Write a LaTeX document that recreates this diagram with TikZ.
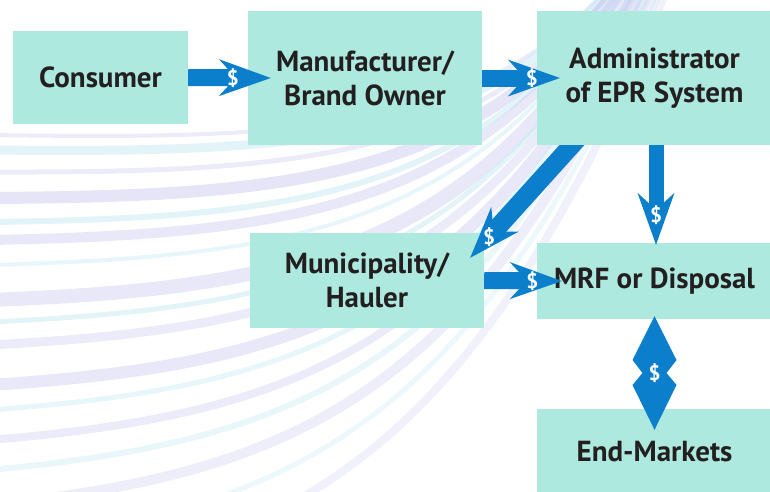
\documentclass[tikz,border=0pt]{standalone}
\usepackage{fontspec}
\setmainfont{PT Sans}
\usetikzlibrary{arrows.meta,calc}

\definecolor{boxgreen}{HTML}{ADE9DE}
\definecolor{moneyblue}{HTML}{0B7FCC}
\definecolor{inkdark}{HTML}{231F20}
\definecolor{streaklav}{HTML}{C5C6EE}
\definecolor{streakcyan}{HTML}{C8EAF4}

\tikzset{
  party/.style={fill=boxgreen, text=inkdark, align=center, inner sep=0pt,
    font=\bfseries\fontsize{29}{34}\selectfont},
  money/.style={draw=moneyblue, line width=17pt,
    -{Stealth[length=52pt,width=37pt,inset=17pt,line width=0pt]}},
  dollar/.style={text=white, inner sep=0pt,
    font=\bfseries\fontsize{21}{21}\selectfont}
}

\begin{document}
\begin{tikzpicture}[x=1pt,y=-1pt]
  \useasboundingbox (0,0) rectangle (770,491);

  % streaks in the background
  \begin{scope}
    \clip (0,0) rectangle (770,491);
    \foreach \y/\w/\c/\o in {
      135/4/streaklav/.35, 150/9/streakcyan/.5, 172/5/streaklav/.35, 198/12/streaklav/.45,
      222/6/streakcyan/.5, 240/10/streaklav/.4, 265/4/streakcyan/.45, 300/14/streaklav/.4,
      322/5/streakcyan/.5, 345/9/streaklav/.35, 385/12/streaklav/.4, 410/5/streakcyan/.45,
      440/8/streaklav/.35, 470/6/streakcyan/.4, 505/10/streaklav/.3, 545/5/streakcyan/.35,
      590/8/streaklav/.25}
      \draw[\c, line width=\w pt, opacity=\o]
        (-10,\y) .. controls (300,{\y-0.1*(\y-180)}) and (480,{\y-0.3*(\y-130)})
        .. ({600+0.12*\y},-20);
  \end{scope}

  % the parties
  \node[party, minimum width=175pt, minimum height=93pt] (con) at (100.5,77.5) {Consumer};
  \node[party, minimum width=234pt, minimum height=134pt] (man) at (365,78) {Manufacturer/\\Brand Owner};
  \node[party, minimum width=235pt, minimum height=134pt] (adm) at (654.5,78) {Administrator\\of EPR System};
  \node[party, minimum width=234pt, minimum height=95pt] (mun) at (367,280.5) {Municipality/\\Hauler};
  \node[party, minimum width=235pt, minimum height=76pt] (mrf) at (654.5,281) {MRF or Disposal};
  \node[party, minimum width=235pt, minimum height=86pt] (mkt) at (654.5,452) {End-Markets};

  % money flows
  \draw[money] (con.east) -- node[dollar,pos=.54]{\$} ($(man.west)+(23,0)$);
  \draw[money] (man.east) -- node[dollar,pos=.64]{\$} ($(adm.west)+(23,0)$);
  \draw[money] (mun.east) -- node[dollar,pos=.62]{\$} ($(mrf.west)+(25,0)$);
  \begin{scope}
    \clip (con.west |- adm.south) rectangle (mkt.south east);
    \draw[money, line width=18.5pt] ($(adm.south west)+(44,-10)$) -- node[dollar,pos=.83]{\$} ($(mun.north east)+(-14,25)$);
  \end{scope}
  \draw[money, line width=15pt] ($(adm.south)+(1.5,0)$) -- node[dollar,pos=.7]{\$} ($(mrf.north)+(1.5,2)$);

  % two-way flow to the end-markets
  \coordinate (mtip) at ($(mrf.south)+(0,-3)$);
  \coordinate (etip) at ($(mkt.north)+(0,21)$);
  \coordinate (mid) at ($(mtip)!.5!(etip)$);
  \fill[moneyblue] (mtip) -- ($(mid)+(22,-13)$) -- ($(mid)+(12,0)$) -- ($(mid)+(22,12)$)
    -- (etip) -- ($(mid)+(-22,12)$) -- ($(mid)+(-12,0)$) -- ($(mid)+(-22,-13)$) -- cycle;
  \node[dollar] (cash) at (mid) {\$};
\end{tikzpicture}
\end{document}
